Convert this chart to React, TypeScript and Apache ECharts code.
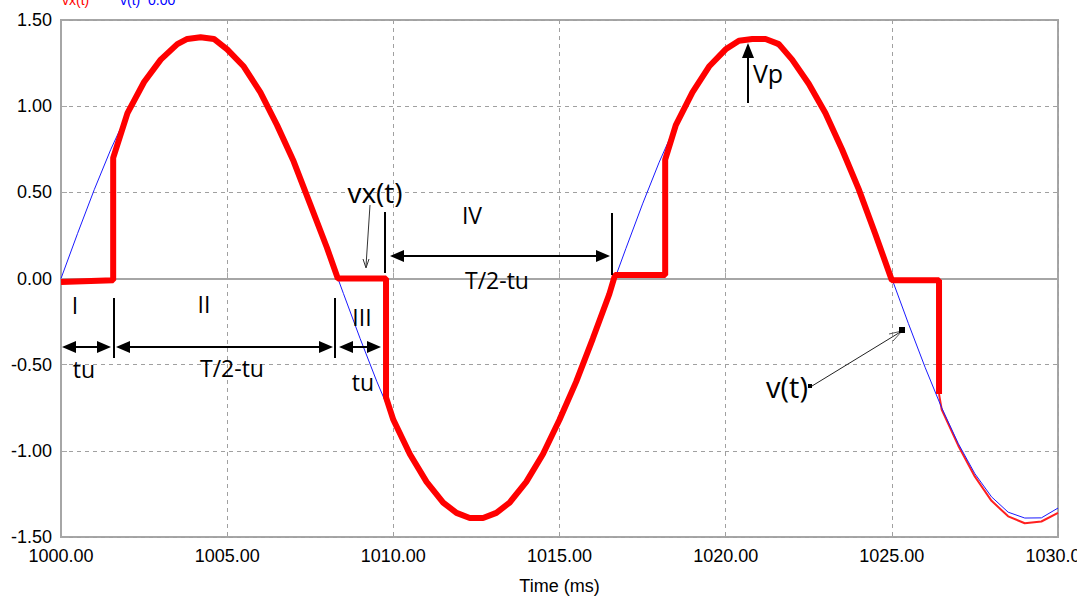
import React, { useEffect, useRef } from "react";
import * as echarts from "echarts";

// Blue: v(t), sampled every 0.5 ms from 1000 to 1030 ms
const blueTimes: number[] = [
  1000, 1000.5, 1001, 1001.5, 1002, 1002.5, 1003, 1003.5, 1004, 1004.5,
  1005, 1005.5, 1006, 1006.5, 1007, 1007.5, 1008, 1008.5, 1009, 1009.5,
  1010, 1010.5, 1011, 1011.5, 1012, 1012.5, 1013, 1013.5, 1014, 1014.5,
  1015, 1015.5, 1016, 1016.5, 1017, 1017.5, 1018, 1018.5, 1019, 1019.5,
  1020, 1020.5, 1021, 1021.5, 1022, 1022.5, 1023, 1023.5, 1024, 1024.5,
  1025, 1025.5, 1026, 1026.5, 1027, 1027.5, 1028, 1028.5, 1029, 1029.5, 1030,
];
const blueValues: number[] = [
  0.0, 0.262, 0.515, 0.75, 0.958, 1.133, 1.267, 1.356, 1.397, 1.389,
  1.332, 1.227, 1.079, 0.892, 0.675, 0.433, 0.175, -0.088, -0.348, -0.596,
  -0.823, -1.021, -1.182, -1.302, -1.375, -1.39, -1.375, -1.302, -1.182, -1.021,
  -0.823, -0.596, -0.348, -0.088, 0.175, 0.433, 0.675, 0.892, 1.079, 1.227,
  1.332, 1.389, 1.397, 1.356, 1.267, 1.133, 0.958, 0.75, 0.515, 0.262,
  0.0, -0.262, -0.515, -0.75, -0.958, -1.133, -1.267, -1.356, -1.39, -1.389, -1.332,
];

// Red: vx(t), thick part
const redTimes: number[] = [
  1000, 1001.57, 1001.57, 1002, 1002.5, 1003, 1003.5, 1003.8, 1004.2, 1004.6, 1005,
  1005.5, 1006, 1006.5, 1007, 1007.5, 1008, 1008.33, 1009.78, 1009.78, 1010,
  1010.5, 1011, 1011.5, 1011.9, 1012.3, 1012.7, 1013.1, 1013.5, 1014, 1014.5, 1015,
  1015.5, 1016, 1016.5, 1016.67, 1018.18, 1018.18, 1018.5, 1019, 1019.5, 1020,
  1020.4, 1020.8, 1021.2, 1021.6, 1022, 1022.5, 1023, 1023.5, 1024, 1024.5, 1025,
  1026.42, 1026.42,
];
const redValues: number[] = [
  -0.02, -0.01, 0.7, 0.96, 1.14, 1.27, 1.36, 1.39, 1.4, 1.39, 1.33,
  1.23, 1.08, 0.89, 0.68, 0.43, 0.18, 0.0, 0.0, -0.69, -0.82,
  -1.02, -1.18, -1.3, -1.36, -1.39, -1.39, -1.36, -1.3, -1.18, -1.02, -0.82,
  -0.6, -0.35, -0.09, 0.02, 0.02, 0.69, 0.89, 1.08, 1.23, 1.33,
  1.38, 1.39, 1.39, 1.36, 1.27, 1.13, 0.96, 0.75, 0.52, 0.26, -0.01,
  -0.01, -0.67,
];
// Red: thin tail
const redTailTimes: number[] = [1026.42, 1026.5, 1027, 1027.5, 1028, 1028.5, 1029, 1029.5, 1030];
const redTailValues: number[] = [-0.67, -0.76, -0.97, -1.15, -1.29, -1.38, -1.42, -1.41, -1.36];

const xTicks = { min: 1000, max: 1030, step: 5 };
const yTicks = { min: -1.5, max: 1.5, step: 0.5 };

const ANN_FONT = '"Open Sans", "Noto Sans", sans-serif';

function txt(text: string, x: number, y: number, size = 23) {
  return {
    type: "text",
    x,
    y,
    z: 100,
    style: { text, fontSize: size, fontFamily: ANN_FONT, fill: "#000", align: "center", verticalAlign: "middle" },
  };
}
function seg(x1: number, y1: number, x2: number, y2: number, w = 2, color = "#000") {
  return { type: "line", z: 100, shape: { x1, y1, x2, y2 }, style: { stroke: color, lineWidth: w } };
}
function tri(pts: number[][]) {
  return { type: "polygon", z: 100, shape: { points: pts }, style: { fill: "#000" } };
}
function hArrow(x1: number, x2: number, y: number) {
  return [
    seg(x1 + 8, y, x2 - 8, y, 2),
    tri([[x1, y], [x1 + 14, y - 6], [x1 + 14, y + 6]]),
    tri([[x2, y], [x2 - 14, y - 6], [x2 - 14, y + 6]]),
  ];
}

export default function App() {
  const ref = useRef<HTMLDivElement>(null);
  useEffect(() => {
    document.body.style.margin = "0";
    const chart = echarts.init(ref.current!, null, { renderer: "svg" });
    const blue = blueTimes.map((t, i) => [t, blueValues[i]]);
    const red = redTimes.map((t, i) => [t, redValues[i]]);
    const redTail = redTailTimes.map((t, i) => [t, redTailValues[i]]);
    const axisFont = { fontFamily: '"Liberation Sans", Arial, sans-serif', fontSize: 18, color: "#000" };
    const graphic: any[] = [
      // clipped legend at top
      { type: "text", x: 62, y: -7, style: { text: "vx(t)", fontSize: 14, fontFamily: "Liberation Sans", fill: "#ff0000" } },
      { type: "text", x: 120, y: -7, style: { text: "v(t)  0.00", fontSize: 14, fontFamily: "Liberation Sans", fill: "#0000ff" } },
      // region labels
      txt("I", 75, 305),
      txt("II", 204, 304),
      txt("III", 362, 317),
      txt("IV", 472, 215),
      txt("tu", 84, 369),
      txt("T/2-tu", 232, 368),
      txt("tu", 363, 382),
      txt("T/2-tu", 497, 280),
      txt("vx(t)", 375, 192, 28),
      txt("Vp", 768, 73, 25),
      txt("v(t)", 787, 386, 29),
      // vertical bars
      seg(114, 298, 114, 358),
      seg(335, 298, 335, 358),
      seg(385, 212, 385, 273),
      seg(612, 213, 612, 275),
      // dimension arrows
      ...hArrow(62, 111, 347),
      ...hArrow(116, 333, 347),
      ...hArrow(339, 381, 347),
      ...hArrow(390, 610, 256),
      // vx(t) pointer
      seg(370, 205, 366, 266, 1, "#333"),
      seg(366, 268, 363, 259, 1, "#333"),
      seg(366, 268, 369, 259, 1, "#333"),
      // Vp arrow
      seg(748, 103, 748, 55, 2),
      tri([[748, 43], [742, 58], [754, 58]]),
      // v(t) pointer
      seg(812, 386, 902, 331, 1, "#222"),
      seg(902, 331, 889, 334, 1, "#555"),
      seg(902, 331, 893, 341, 1, "#555"),
      { type: "rect", z: 100, shape: { x: 808, y: 384, width: 4, height: 4 }, style: { fill: "#000" } },
      { type: "rect", z: 100, shape: { x: 899, y: 327, width: 6, height: 6 }, style: { fill: "#000" } },
    ];
    chart.setOption({
      animation: false,
      backgroundColor: "#fff",
      grid: {
        left: 61, right: 19, top: 20, bottom: 63, show: true,
        borderColor: "#a6a6a6", borderWidth: 2, containLabel: false, outerBoundsMode: "none",
      },
      xAxis: {
        type: "value",
        min: xTicks.min,
        max: xTicks.max,
        interval: xTicks.step,
        name: "Time (ms)",
        nameLocation: "middle",
        nameGap: 40,
        nameTextStyle: { ...axisFont, fontSize: 18 },
        axisLine: { show: true, lineStyle: { color: "#a6a6a6", width: 2 } },
        axisTick: { show: true, inside: true, length: 6, lineStyle: { color: "#a6a6a6" } },
        axisLabel: { ...axisFont, margin: 10, formatter: (v: number) => v.toFixed(2) },
        splitLine: { show: true, lineStyle: { color: "#a0a0a0", type: [4, 4], width: 1 } },
      },
      yAxis: {
        type: "value",
        min: yTicks.min,
        max: yTicks.max,
        interval: yTicks.step,
        axisLine: { show: true, lineStyle: { color: "#a6a6a6", width: 2 } },
        axisTick: { show: true, inside: true, length: 6, lineStyle: { color: "#a6a6a6" } },
        axisLabel: { ...axisFont, margin: 9, formatter: (v: number) => v.toFixed(2) },
        splitLine: { show: true, lineStyle: { color: "#a0a0a0", type: [4, 4], width: 1 } },
      },
      series: [
        { type: "line", data: blue, showSymbol: false, lineStyle: { color: "#1a1aff", width: 1 }, z: 3 },
        { type: "line", data: red, showSymbol: false, lineStyle: { color: "#ff0000", width: 6 }, z: 4 },
        { type: "line", data: redTail, showSymbol: false, lineStyle: { color: "#ff2020", width: 2 }, z: 2 },
      ],
      graphic,
    });
    return () => chart.dispose();
  }, []);
  return <div ref={ref} style={{ position: "fixed", left: 0, top: 0, width: 1077, height: 600 }} />;
}
